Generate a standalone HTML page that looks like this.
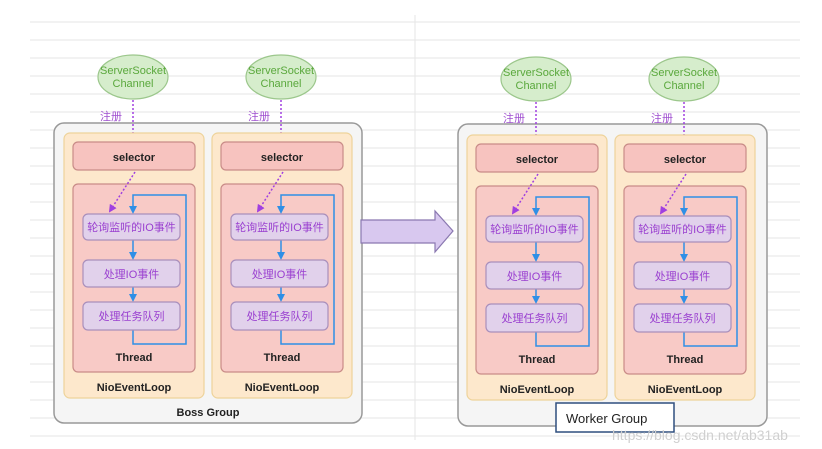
<!DOCTYPE html>
<html><head><meta charset="utf-8"><style>
html,body{margin:0;padding:0;background:#fff}
svg{display:block}
text{font-family:"Liberation Sans","Noto Sans CJK SC",sans-serif}
</style></head><body>
<svg width="822" height="449" viewBox="0 0 822 449" xmlns="http://www.w3.org/2000/svg">
<defs>
<marker id="pa" markerWidth="8" markerHeight="8" refX="6" refY="4" orient="auto" markerUnits="userSpaceOnUse"><path d="M0,0 L8,4 L0,8 z" fill="#a040e0"/></marker>
<marker id="ba" markerWidth="8" markerHeight="8" refX="6" refY="4" orient="auto" markerUnits="userSpaceOnUse"><path d="M0,0 L8,4 L0,8 z" fill="#2f8fe6"/></marker>
<g id="nel">
<ellipse cx="69" cy="-56" rx="35" ry="22" fill="#d6edcc" stroke="#9cc78c" stroke-width="1.2"/>
<text x="69" y="-59" font-size="11" fill="#5aa83c" text-anchor="middle">ServerSocket</text>
<text x="69" y="-46" font-size="11" fill="#5aa83c" text-anchor="middle">Channel</text>
<text x="36" y="-13" font-size="11" fill="#a050d0">注册</text>
<line x1="69" y1="-33" x2="69" y2="8" stroke="#a040e0" stroke-width="1.5" stroke-dasharray="2,2" marker-end="url(#pa)"/>
<rect x="0" y="0" width="140" height="265" rx="6" fill="#fde8cc" stroke="#eed39a" stroke-width="1.2"/>
<rect x="9" y="9" width="122" height="28" rx="5" fill="#f7c3bf" stroke="#c98c88" stroke-width="1.2"/>
<text x="70" y="28" font-size="11" font-weight="bold" fill="#222" text-anchor="middle">selector</text>
<rect x="9" y="51" width="122" height="188" rx="5" fill="#f8cac6" stroke="#c98c88" stroke-width="1.2"/>
<path d="M69,197 V211 H122 V62 H69 V79" fill="none" stroke="#2f8fe6" stroke-width="1.5" marker-end="url(#ba)"/>
<line x1="69" y1="107" x2="69" y2="125" stroke="#2f8fe6" stroke-width="1.5" marker-end="url(#ba)"/>
<line x1="69" y1="154" x2="69" y2="167" stroke="#2f8fe6" stroke-width="1.5" marker-end="url(#ba)"/>
<line x1="71" y1="39" x2="46" y2="78" stroke="#a040e0" stroke-width="1.5" stroke-dasharray="2,2" marker-end="url(#pa)"/>
<rect x="19" y="81" width="97" height="26" rx="5" fill="#e1d1eb" stroke="#a98fbb" stroke-width="1.2"/>
<text x="67.5" y="98" font-size="11" fill="#9a40d0" text-anchor="middle">轮询监听的IO事件</text>
<rect x="19" y="127" width="97" height="27" rx="5" fill="#e1d1eb" stroke="#a98fbb" stroke-width="1.2"/>
<text x="67.5" y="145" font-size="11" fill="#9a40d0" text-anchor="middle">处理IO事件</text>
<rect x="19" y="169" width="97" height="28" rx="5" fill="#e1d1eb" stroke="#a98fbb" stroke-width="1.2"/>
<text x="67.5" y="187" font-size="11" fill="#9a40d0" text-anchor="middle">处理任务队列</text>
<text x="70" y="228" font-size="11" font-weight="bold" fill="#222" text-anchor="middle">Thread</text>
<text x="70" y="258" font-size="11" font-weight="bold" fill="#222" text-anchor="middle">NioEventLoop</text>
</g>
</defs>
<g stroke="#e6e6e6" stroke-width="1">
<line x1="30" y1="22" x2="800" y2="22"/><line x1="30" y1="40" x2="800" y2="40"/>
<line x1="30" y1="58" x2="800" y2="58"/><line x1="30" y1="76" x2="800" y2="76"/>
<line x1="30" y1="94" x2="800" y2="94"/><line x1="30" y1="112" x2="800" y2="112"/>
<line x1="30" y1="130" x2="800" y2="130"/><line x1="30" y1="148" x2="800" y2="148"/>
<line x1="30" y1="166" x2="800" y2="166"/><line x1="30" y1="184" x2="800" y2="184"/>
<line x1="30" y1="202" x2="800" y2="202"/><line x1="30" y1="220" x2="800" y2="220"/>
<line x1="30" y1="238" x2="800" y2="238"/><line x1="30" y1="256" x2="800" y2="256"/>
<line x1="30" y1="274" x2="800" y2="274"/><line x1="30" y1="292" x2="800" y2="292"/>
<line x1="30" y1="310" x2="800" y2="310"/><line x1="30" y1="328" x2="800" y2="328"/>
<line x1="30" y1="346" x2="800" y2="346"/><line x1="30" y1="364" x2="800" y2="364"/>
<line x1="30" y1="382" x2="800" y2="382"/><line x1="30" y1="400" x2="800" y2="400"/>
<line x1="30" y1="418" x2="800" y2="418"/><line x1="30" y1="436" x2="800" y2="436"/>
<line x1="415" y1="15" x2="415" y2="440"/>
</g>
<rect x="54" y="123" width="308" height="300" rx="10" fill="#f5f5f5" stroke="#999" stroke-width="1.5"/>
<rect x="458" y="124" width="309" height="302" rx="10" fill="#f5f5f5" stroke="#999" stroke-width="1.5"/>
<use href="#nel" x="64" y="133"/>
<use href="#nel" x="212" y="133"/>
<use href="#nel" x="467" y="135"/>
<use href="#nel" x="615" y="135"/>
<text x="208" y="416" font-size="11" font-weight="bold" fill="#222" text-anchor="middle">Boss Group</text>
<rect x="556" y="403" width="118" height="29" fill="#fff" stroke="#2f4f7f" stroke-width="1.5"/>
<text x="566" y="423" font-size="13" fill="#222">Worker Group</text>
<path d="M361,220 H435 V211 L453,231 L435,252 V243 H361 Z" fill="#d8c8ef" stroke="#8a78b0" stroke-width="1.2"/>
<text x="612" y="440" font-size="14" fill="#d0d0d0">https://blog.csdn.net/ab31ab</text>
</svg>
</body></html>
